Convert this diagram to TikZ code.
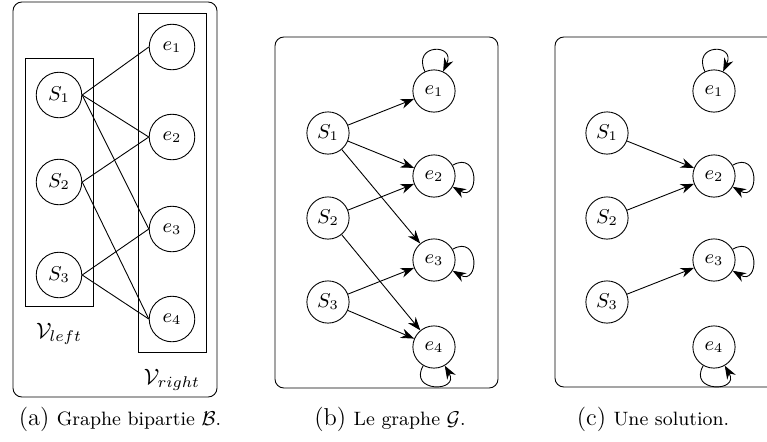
\documentclass[tikz,border=0pt]{standalone}
\usepackage{amsmath,amssymb}
\usepackage{tikz}
\usetikzlibrary{arrows.meta}

\begin{document}
\begin{tikzpicture}[x=0.45pt,y=-0.45pt,
	sommet/.style={circle,draw,minimum size=19pt,inner sep=0pt,font=\small},
	fleche/.style={-{Stealth[length=6pt,width=4.4pt]}},
	boucle/.style={fleche,distance=14pt}]
	\clip (0,0) rectangle (767,441);
	% (a) graphe bipartie
	\draw[rounded corners] (13,2) rectangle (217,397);
	\draw (25,58) rectangle (93,306);
	\draw (138,13) rectangle (206,352);
	\node[sommet,minimum size=20.5pt] (aS1) at (59,95) {$S_1$};
	\node[sommet,minimum size=20.5pt] (aS2) at (59,182) {$S_2$};
	\node[sommet,minimum size=20.5pt] (aS3) at (59,275) {$S_3$};
	\node[sommet,minimum size=20.5pt] (ae1) at (172,47) {$e_1$};
	\node[sommet,minimum size=20.5pt] (ae2) at (172,137) {$e_2$};
	\node[sommet,minimum size=20.5pt] (ae3) at (172,229) {$e_3$};
	\node[sommet,minimum size=20.5pt] (ae4) at (172,319) {$e_4$};
	\draw (aS1.east)--(ae1.west);
	\draw (aS1.east)--(ae2.west);
	\draw (aS1.east)--(ae3.west);
	\draw (aS2.east)--(ae2.west);
	\draw (aS2.east)--(ae4.west);
	\draw (aS3.east)--(ae3.west);
	\draw (aS3.east)--(ae4.west);
	\node[anchor=base] (vleft) at (59,338) {$\mathcal{V}_{left}$};
	\node[anchor=base] (vright) at (172,384) {$\mathcal{V}_{right}$};
	\node[anchor=base] (capa) at (120,425) {{\fontsize{11}{13}\selectfont (a)} {\fontsize{8.7}{10}\selectfont Graphe bipartie $\mathcal{B}$.}};
	% (b) le graphe G
	\draw[rounded corners] (275,37) rectangle (498,388);
	\node[sommet] (bS1) at (328,133) {$S_1$};
	\node[sommet] (bS2) at (328,218) {$S_2$};
	\node[sommet] (bS3) at (328,302) {$S_3$};
	\node[sommet] (be1) at (434,91) {$e_1$};
	\node[sommet] (be2) at (434,176) {$e_2$};
	\node[sommet] (be3) at (434,260) {$e_3$};
	\node[sommet] (be4) at (434,347) {$e_4$};
	\draw[fleche] (bS1)--(be1);
	\draw[fleche] (bS1)--(be2);
	\draw[fleche] (bS1)--(be3);
	\draw[fleche] (bS2)--(be2);
	\draw[fleche] (bS2)--(be4);
	\draw[fleche] (bS3)--(be3);
	\draw[fleche] (bS3)--(be4);
	\draw[boucle] (be1) to[out=115,in=65] (be1);
	\draw[boucle] (be2) to[out=30,in=-30] (be2);
	\draw[boucle] (be3) to[out=30,in=-30] (be3);
	\draw[boucle] (be4) to[out=-120,in=-60] (be4);
	\node[anchor=base] (capb) at (390,425) {{\fontsize{11}{13}\selectfont (b)} {\fontsize{8.7}{10}\selectfont Le graphe $\mathcal{G}$.}};
	% (c) une solution
	\draw[rounded corners] (555,37) rectangle (778,387);
	\node[sommet] (cS1) at (607,133) {$S_1$};
	\node[sommet] (cS2) at (607,218) {$S_2$};
	\node[sommet] (cS3) at (607,302) {$S_3$};
	\node[sommet] (ce1) at (714,91) {$e_1$};
	\node[sommet] (ce2) at (714,176) {$e_2$};
	\node[sommet] (ce3) at (714,260) {$e_3$};
	\node[sommet] (ce4) at (714,347) {$e_4$};
	\draw[fleche] (cS1)--(ce2);
	\draw[fleche] (cS2)--(ce2);
	\draw[fleche] (cS3)--(ce3);
	\draw[boucle] (ce1) to[out=115,in=65] (ce1);
	\draw[boucle] (ce2) to[out=30,in=-30] (ce2);
	\draw[boucle] (ce3) to[out=30,in=-30] (ce3);
	\draw[boucle] (ce4) to[out=-120,in=-60] (ce4);
	\node[anchor=base] (capc) at (653,425) {{\fontsize{11}{13}\selectfont (c)} {\fontsize{8.7}{10}\selectfont Une solution.}};
\end{tikzpicture}
\end{document}
